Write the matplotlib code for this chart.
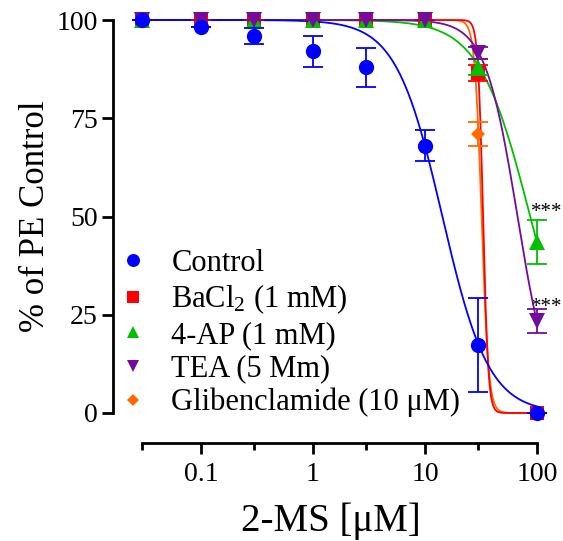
import numpy as np
import matplotlib
matplotlib.use("Agg")
import matplotlib.pyplot as plt
from matplotlib.lines import Line2D

plt.rcParams['font.family'] = ['Liberation Serif', 'DejaVu Serif']
plt.rcParams['mathtext.fontset'] = 'custom'
plt.rcParams['mathtext.rm'] = 'Liberation Serif'
plt.rcParams['mathtext.it'] = 'Liberation Serif:italic'

# ---------------- data ----------------
conc = [0.03, 0.1, 0.3, 1, 3, 10, 30, 100]

control_y = [100, 98.2, 96, 92, 88, 68, 17.3, 0]
control_err = [0, 0, 2, 4, 5, 4, 12, 0]

bacl2_y = [100, 100, 100, 100, 100, 100, 86.5, 0]
bacl2_err = [0, 0, 0, 0, 0, 0, 2, 0]

ap_y = [100, 100, 100, 100, 100, 100, 88, 43.5]
ap_err = [0, 0, 0, 0, 0, 0, 2, 5.5]

tea_y = [100, 100, 100, 100, 100, 100, 91.6, 23.4]
tea_err = [0, 0, 0, 0, 0, 0, 1.5, 3]

glib_y = [100, 100, 100, 100, 100, 100, 71, 0]
glib_err = [0, 0, 0, 0, 0, 0, 3, 0]

# Hill fit parameters (IC50, slope)
control_fit = (14.3, 2.1)
bacl2_fit = (33.0, 19.0)
ap_fit = (87.0, 1.9)
tea_fit = (67.0, 3.0)
glib_fit = (32.0, 14.0)

labels = ['Control', 'BaCl$_2$ (1 mM)', '4-AP (1 mM)', 'TEA (5 Mm)',
          'Glibenclamide (10 μM)']
colors = ['#0000FF', '#FF0000', '#00C000', '#730C9C', '#FF6A00']
markers = ['o', 's', '^', 'v', 'D']
msizes = [11, 10, 11, 11, 7.5]

series = [(control_y, control_err, control_fit),
          (bacl2_y, bacl2_err, bacl2_fit),
          (ap_y, ap_err, ap_fit),
          (tea_y, tea_err, tea_fit),
          (glib_y, glib_err, glib_fit)]
zorders = [10, 6, 7, 8, 5]

# ---------------- figure ----------------
W, H = 563, 541
fig = plt.figure(figsize=(W / 100, H / 100), dpi=100)

px_left, px_right = 113, 548
px_top, px_bottom = 20, 413
ax = fig.add_axes([px_left / W, 1 - px_bottom / H,
                   (px_right - px_left) / W, (px_bottom - px_top) / H])

ppd = 112.0
x_at = lambda px: 10 ** (-1 + (px - 201) / ppd)
ax.set_xscale('log')
ax.set_xlim(x_at(px_left), x_at(px_right))
ax.set_ylim(0, 100)

xs = np.logspace(np.log10(0.03), 2, 600)
for (y, e, fit), c, m, ms, z in zip(series, colors, markers, msizes, zorders):
    ic50, n = fit
    ax.plot(xs, 100 / (1 + (xs / ic50) ** n), color=c, lw=1.3, zorder=z - 3,
            clip_on=False)
    ax.errorbar(conc, y, yerr=e, fmt='none', ecolor=c, elinewidth=1.3,
                capsize=7, capthick=1.3, zorder=z, clip_on=False)
    ax.plot(conc, y, linestyle='none', marker=m, color=c, markersize=ms,
            markeredgewidth=0, zorder=z, clip_on=False)

# significance stars
ax.text(x_at(531), ap_y[-1] + 7.5, '***', fontsize=15, ha='left', va='center',
        clip_on=False)
ax.text(x_at(531), tea_y[-1] + 3.5, '***', fontsize=15, ha='left', va='center',
        clip_on=False)

# spines
for s in ['top', 'right']:
    ax.spines[s].set_visible(False)
ax.spines['left'].set_linewidth(2)
ax.spines['bottom'].set_linewidth(2)
ax.spines['bottom'].set_position(('outward', 30 * 72 / 100))
ax.spines['bottom'].set_bounds(0.03, 100)

ax.set_yticks([0, 25, 50, 75, 100])
ax.set_xticks([0.1, 1, 10, 100])
ax.set_xticklabels(['0.1', '1', '10', '100'])
ax.set_xticks([0.03, 0.3, 3, 30], minor=True)
ax.xaxis.set_minor_formatter(matplotlib.ticker.NullFormatter())
ax.tick_params(axis='both', which='major', length=8, width=2, labelsize=20,
               direction='out', pad=3)
ax.tick_params(axis='x', which='minor', length=5, width=2, direction='out')
ax.tick_params(axis='x', which='major', pad=6)

ax.set_ylabel('% of PE Control', fontsize=25, labelpad=3)
ax.set_xlabel('2-MS [μM]', fontsize=28, labelpad=11)

handles = [Line2D([], [], linestyle='none', marker=m, color=c, markersize=ms * 0.85,
                  markeredgewidth=0)
           for m, c, ms in zip(markers, colors, msizes)]
leg = ax.legend(handles, labels, loc='upper left', frameon=False, fontsize=22,
                bbox_to_anchor=(118 / W, 1 - 249 / H),
                bbox_transform=fig.transFigure, handlelength=1.0,
                handletextpad=0.75, labelspacing=0.15, borderpad=0,
                borderaxespad=0)

fig.savefig('out.png', dpi=100)
